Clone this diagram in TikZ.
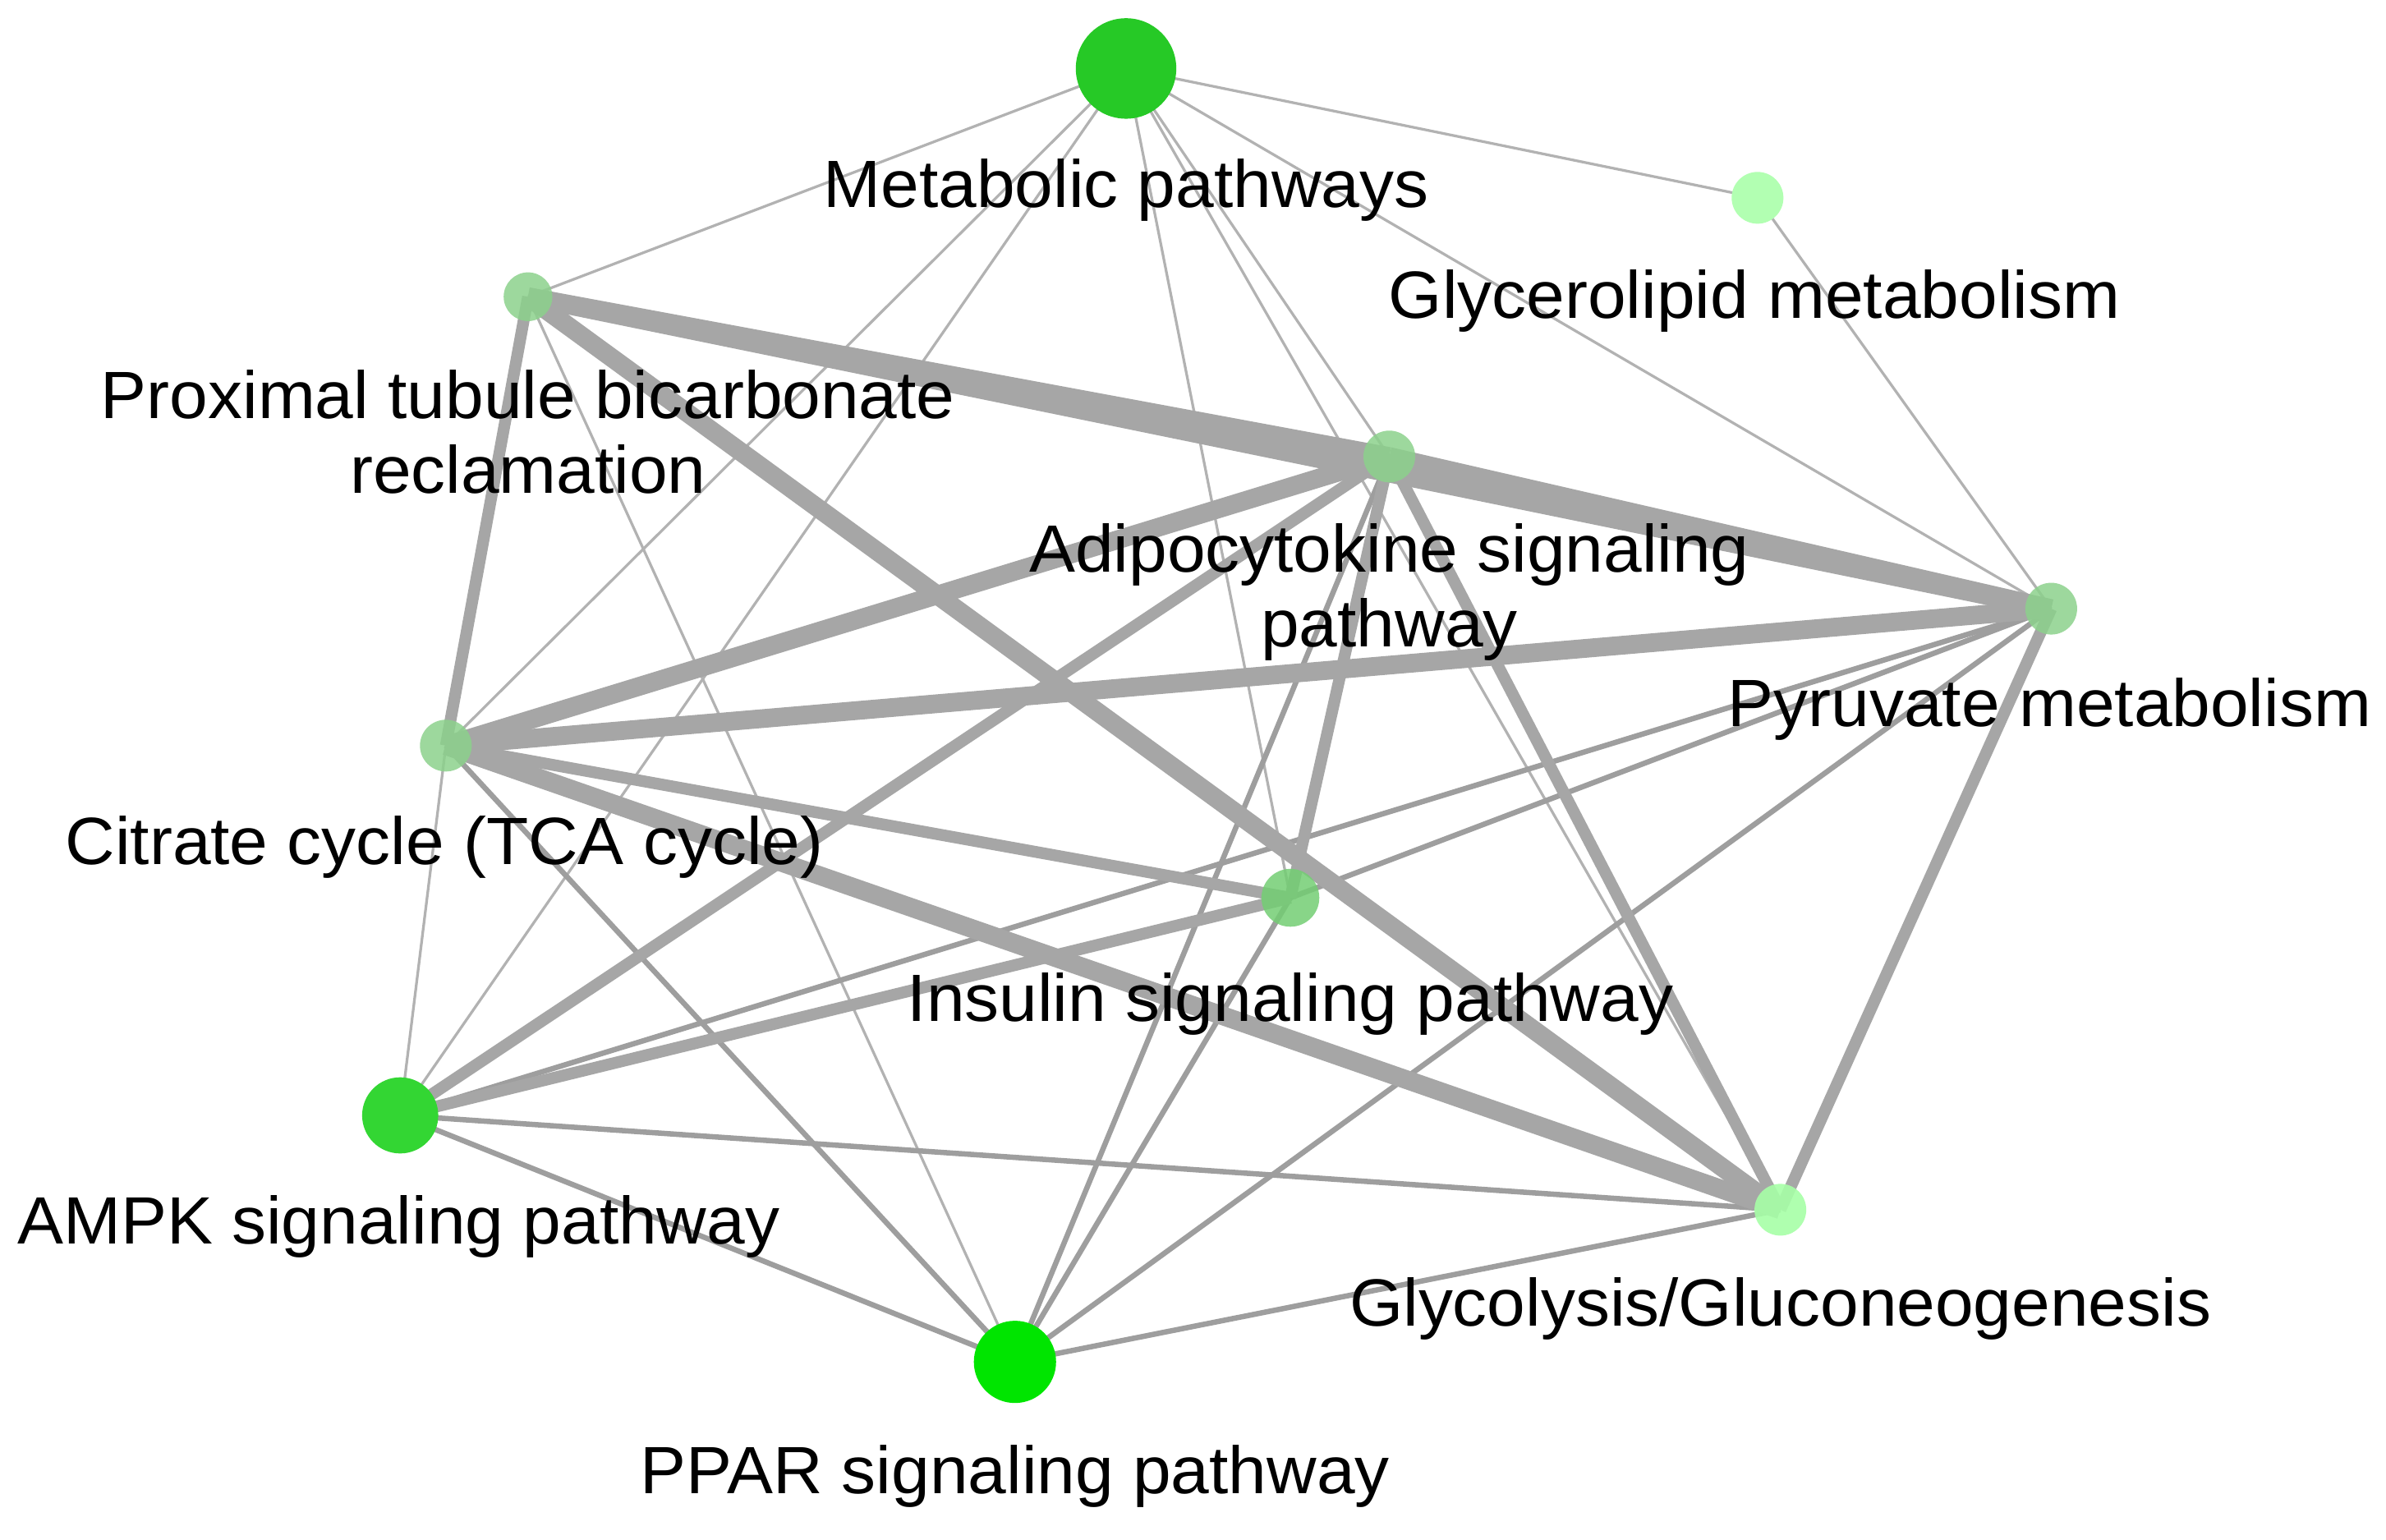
\documentclass[tikz,border=0pt]{standalone}
\usepackage{fontspec}
\setmainfont{Liberation Sans}
\begin{document}
\begin{tikzpicture}[x=0.01cm,y=-0.01cm,
 e1/.style={draw=black!30,line width=0.5pt},
 e2/.style={draw=black!38,line width=1pt},
 e3/.style={draw=black!35,line width=2.2pt},
 e4/.style={draw=black!35,line width=3.5pt},
 nd/.style={circle,inner sep=0pt,draw=none},
 lb/.style={font=\fontsize{12.5}{14}\selectfont,align=center,inner sep=0pt,xscale=1.03}]
\useasboundingbox (0,0) rectangle (1568,1012);
\coordinate (M) at (740,45);
\coordinate (G) at (1155,130);
\coordinate (P) at (347,195);
\coordinate (A) at (913,300);
\coordinate (Y) at (1348,400);
\coordinate (C) at (293,490);
\coordinate (I) at (848,590);
\coordinate (K) at (263,733);
\coordinate (L) at (1170,795);
\coordinate (R) at (667,895);
% edges
\foreach \a/\b in {M/P,M/G,M/A,M/Y,M/C,M/K,M/I,M/L,G/Y,P/R,A/L,C/K}{\draw[e1] (\a)--(\b);}
\foreach \a/\b in {C/R,A/R,I/R,Y/R,K/R,K/L,R/L,K/Y,I/Y}{\draw[e2] (\a)--(\b);}
\foreach \a/\b in {C/I,A/I,Y/L,A/L,P/C,K/I,K/A}{\draw[e3] (\a)--(\b);}
\foreach \a/\b in {P/Y,P/A,P/L,C/A,C/L,A/Y,C/Y}{\draw[e4] (\a)--(\b);}
% nodes
\node[nd,fill=green!75!black!85,minimum size=0.66cm] (nM) at (M) {};
\node[nd,fill=green!30,minimum size=0.34cm] (nG) at (G) {};
\node[nd,fill=green!60!black!45,opacity=0.85,minimum size=0.32cm] (nP) at (P) {};
\node[nd,fill=green!60!black!45,opacity=0.85,minimum size=0.34cm] (nA) at (A) {};
\node[nd,fill=green!60!black!45,opacity=0.85,minimum size=0.34cm] (nY) at (Y) {};
\node[nd,fill=green!60!black!45,opacity=0.85,minimum size=0.34cm] (nC) at (C) {};
\node[nd,fill=green!65!black!55,opacity=0.85,minimum size=0.38cm] (nI) at (I) {};
\node[nd,fill=green!80!black!80,minimum size=0.50cm] (nK) at (K) {};
\node[nd,fill=green!35,opacity=0.9,minimum size=0.34cm] (nL) at (L) {};
\node[nd,fill=green!90!black,minimum size=0.54cm] (nR) at (R) {};
% labels
\node[lb] (tM) at (740,125) {Metabolic pathways};
\node[lb] (tG) at (1153,198) {Glycerolipid metabolism};
\node[lb] (tP) at (347,284) {Proximal tubule bicarbonate\\reclamation};
\node[lb] (tA) at (913,389) {Adipocytokine signaling\\pathway};
\node[lb] (tY) at (1347,466) {Pyruvate metabolism};
\node[lb] (tC) at (292,557) {Citrate cycle (TCA cycle)};
\node[lb] (tI) at (848,660) {Insulin signaling pathway};
\node[lb] (tK) at (262,806) {AMPK signaling pathway};
\node[lb] (tL) at (1170,860) {Glycolysis/Gluconeogenesis};
\node[lb] (tR) at (667,970) {PPAR signaling pathway};
\end{tikzpicture}
\end{document}
